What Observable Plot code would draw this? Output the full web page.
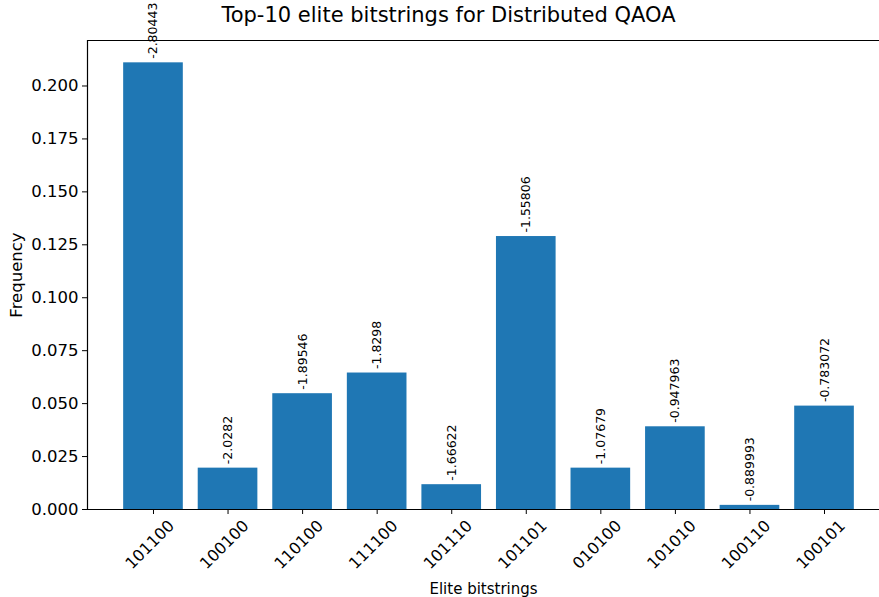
<!DOCTYPE html>
<html><head><meta charset="utf-8">
<script src="https://cdn.jsdelivr.net/npm/d3@7"></script>
<script src="https://cdn.jsdelivr.net/npm/@observablehq/plot@0.6"></script>
<style>
html,body{margin:0;padding:0;background:#fff;font-family:"DejaVu Sans",sans-serif;overflow:hidden;}
#chart{position:relative;width:879px;height:597px;overflow:hidden;}
#chart svg{display:block;max-width:none;}
#title{position:absolute;top:3px;left:0;width:897px;text-align:center;font-size:21px;color:#000;}
</style></head><body>
<div id="chart"><div id="title">Top-10 elite bitstrings for Distributed QAOA</div></div>
<script>
const bitstrings = ["101100","100100","110100","111100","101110","101101","010100","101010","100110","100101"];
const counts = [216, 20, 56, 66, 12, 132, 20, 40, 2, 50];
const shots = 1024;
const energies = ["-2.80443","-2.0282","-1.89546","-1.8298","-1.66622","-1.55806","-1.07679","-0.947963","-0.889993","-0.783072"];
const yTicks = [0, 0.025, 0.05, 0.075, 0.1, 0.125, 0.15, 0.175, 0.2];

const data = bitstrings.map((b, i) => ({b, f: counts[i] / shots, e: energies[i]}));
const yMax = d3.max(data, d => d.f) * 1.05;

const plot = Plot.plot({
  width: 879, height: 597,
  marginLeft: 87, marginRight: 0, marginTop: 40, marginBottom: 88,
  style: {fontFamily: "DejaVu Sans", fontSize: "15px", color: "#000", background: "transparent", overflow: "hidden"},
  x: {domain: bitstrings, paddingInner: 0.2, paddingOuter: 0.485, align: 0.5, round: false, range: [87, 890]},
  y: {domain: [0, yMax]},
  marks: [
    Plot.barY(data, {x: "b", y: "f", fill: "#1f77b4"}),
    Plot.text(data, {x: "b", y: "f", text: "e", rotate: -90, textAnchor: "start", dy: -4, fontSize: 12.5, fill: "#000"}),
    Plot.ruleY([0, yMax], {stroke: "#000", strokeWidth: 1.2}),
    Plot.frame({anchor: "left", stroke: "#000", strokeWidth: 1.2}),
    Plot.axisY({ticks: yTicks, tickFormat: d3.format(".3f"), tickSize: 5, tickPadding: 4, label: "Frequency", labelAnchor: "center", labelArrow: "none", labelOffset: 77, fontSize: 16.5}),
    Plot.axisX({tickSize: 5, tickFormat: () => "", label: "Elite bitstrings", labelAnchor: "center", labelArrow: "none", labelOffset: 84, fontSize: 15}),
    Plot.text(bitstrings, {x: d => d, text: d => d, frameAnchor: "bottom", dy: 39, rotate: -45, textAnchor: "middle", fontSize: 16, fill: "#000"})
  ]
});
document.getElementById("chart").appendChild(plot);
</script>
</body></html>
